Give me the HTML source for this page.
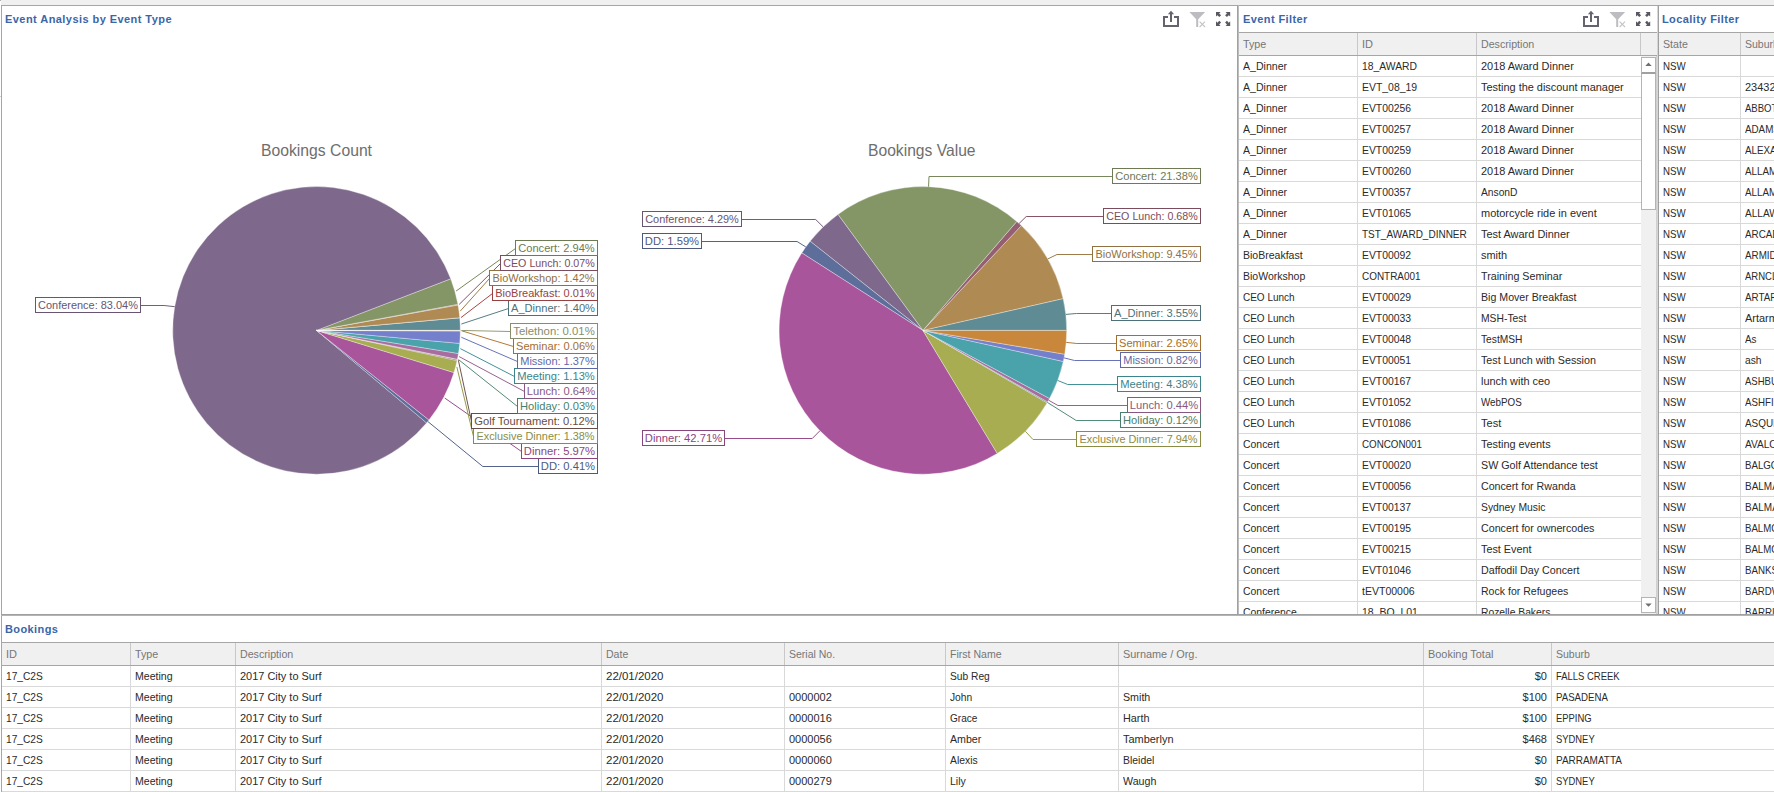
<!DOCTYPE html><html><head><meta charset="utf-8"><title>Dashboard</title><style>
*{margin:0;padding:0;box-sizing:border-box}
html,body{width:1774px;height:792px;overflow:hidden;background:#fff;font-family:"Liberation Sans", sans-serif;}
.a{position:absolute}
.t{position:absolute;white-space:nowrap;font-size:11px;line-height:13px;color:#2a2a2a;transform-origin:0 0}
.r{transform-origin:100% 0}
.h{color:#767676}
.ttl{position:absolute;white-space:nowrap;font-size:11px;font-weight:bold;line-height:13px;color:#3a66a8;letter-spacing:0.4px}
.clip{position:absolute;overflow:hidden}
</style></head><body>

<div class="a" style="left:1px;top:0px;width:1773px;height:5px;background:#f0f0f0"></div>
<div class="a" style="left:0px;top:0px;width:1px;height:1px;background:#b0b0b0"></div>
<div class="a" style="left:0px;top:96px;width:1px;height:1px;background:#d0d0d0"></div>
<div class="clip" style="left:1238px;top:0px;width:420px;height:614px">
<div class="a" style="left:0px;top:32px;width:420px;height:1px;background:#a6a6a6"></div>
<div class="a" style="left:0px;top:33px;width:420px;height:22px;background:#f0f0f0"></div>
<div class="a" style="left:0px;top:55px;width:420px;height:1px;background:#a6a6a6"></div>
<div class="a" style="left:402px;top:33px;width:1px;height:22px;background:#c8c8c8"></div>
<div class="t h" style="left:5px;top:38px;transform:scaleX(0.9725)">Type</div>
<div class="a" style="left:119px;top:33px;width:1px;height:22px;background:#c8c8c8"></div>
<div class="t h" style="left:124px;top:38px">ID</div>
<div class="a" style="left:238px;top:33px;width:1px;height:22px;background:#c8c8c8"></div>
<div class="t h" style="left:243px;top:38px;transform:scaleX(0.9678)">Description</div>
<div class="t" style="left:5px;top:60px;transform:scaleX(0.9611)">A_Dinner</div>
<div class="a" style="left:119px;top:56px;width:1px;height:20px;background:#d9d9d9"></div>
<div class="t" style="left:124px;top:60px;transform:scaleX(0.9401)">18_AWARD</div>
<div class="a" style="left:238px;top:56px;width:1px;height:20px;background:#d9d9d9"></div>
<div class="t" style="left:243px;top:60px;transform:scaleX(0.9939)">2018 Award Dinner</div>
<div class="a" style="left:0px;top:76px;width:403px;height:1px;background:#d9d9d9"></div>
<div class="t" style="left:5px;top:81px;transform:scaleX(0.9611)">A_Dinner</div>
<div class="a" style="left:119px;top:77px;width:1px;height:20px;background:#d9d9d9"></div>
<div class="t" style="left:124px;top:81px;transform:scaleX(0.9492)">EVT_08_19</div>
<div class="a" style="left:238px;top:77px;width:1px;height:20px;background:#d9d9d9"></div>
<div class="t" style="left:243px;top:81px;transform:scaleX(0.9930)">Testing the discount manager</div>
<div class="a" style="left:0px;top:97px;width:403px;height:1px;background:#d9d9d9"></div>
<div class="t" style="left:5px;top:102px;transform:scaleX(0.9611)">A_Dinner</div>
<div class="a" style="left:119px;top:98px;width:1px;height:20px;background:#d9d9d9"></div>
<div class="t" style="left:124px;top:102px;transform:scaleX(0.9433)">EVT00256</div>
<div class="a" style="left:238px;top:98px;width:1px;height:20px;background:#d9d9d9"></div>
<div class="t" style="left:243px;top:102px;transform:scaleX(0.9939)">2018 Award Dinner</div>
<div class="a" style="left:0px;top:118px;width:403px;height:1px;background:#d9d9d9"></div>
<div class="t" style="left:5px;top:123px;transform:scaleX(0.9611)">A_Dinner</div>
<div class="a" style="left:119px;top:119px;width:1px;height:20px;background:#d9d9d9"></div>
<div class="t" style="left:124px;top:123px;transform:scaleX(0.9433)">EVT00257</div>
<div class="a" style="left:238px;top:119px;width:1px;height:20px;background:#d9d9d9"></div>
<div class="t" style="left:243px;top:123px;transform:scaleX(0.9939)">2018 Award Dinner</div>
<div class="a" style="left:0px;top:139px;width:403px;height:1px;background:#d9d9d9"></div>
<div class="t" style="left:5px;top:144px;transform:scaleX(0.9611)">A_Dinner</div>
<div class="a" style="left:119px;top:140px;width:1px;height:20px;background:#d9d9d9"></div>
<div class="t" style="left:124px;top:144px;transform:scaleX(0.9433)">EVT00259</div>
<div class="a" style="left:238px;top:140px;width:1px;height:20px;background:#d9d9d9"></div>
<div class="t" style="left:243px;top:144px;transform:scaleX(0.9939)">2018 Award Dinner</div>
<div class="a" style="left:0px;top:160px;width:403px;height:1px;background:#d9d9d9"></div>
<div class="t" style="left:5px;top:165px;transform:scaleX(0.9611)">A_Dinner</div>
<div class="a" style="left:119px;top:161px;width:1px;height:20px;background:#d9d9d9"></div>
<div class="t" style="left:124px;top:165px;transform:scaleX(0.9433)">EVT00260</div>
<div class="a" style="left:238px;top:161px;width:1px;height:20px;background:#d9d9d9"></div>
<div class="t" style="left:243px;top:165px;transform:scaleX(0.9939)">2018 Award Dinner</div>
<div class="a" style="left:0px;top:181px;width:403px;height:1px;background:#d9d9d9"></div>
<div class="t" style="left:5px;top:186px;transform:scaleX(0.9611)">A_Dinner</div>
<div class="a" style="left:119px;top:182px;width:1px;height:20px;background:#d9d9d9"></div>
<div class="t" style="left:124px;top:186px;transform:scaleX(0.9433)">EVT00357</div>
<div class="a" style="left:238px;top:182px;width:1px;height:20px;background:#d9d9d9"></div>
<div class="t" style="left:243px;top:186px;transform:scaleX(0.9319)">AnsonD</div>
<div class="a" style="left:0px;top:202px;width:403px;height:1px;background:#d9d9d9"></div>
<div class="t" style="left:5px;top:207px;transform:scaleX(0.9611)">A_Dinner</div>
<div class="a" style="left:119px;top:203px;width:1px;height:20px;background:#d9d9d9"></div>
<div class="t" style="left:124px;top:207px;transform:scaleX(0.9433)">EVT01065</div>
<div class="a" style="left:238px;top:203px;width:1px;height:20px;background:#d9d9d9"></div>
<div class="t" style="left:243px;top:207px;transform:scaleX(0.9960)">motorcycle ride in event</div>
<div class="a" style="left:0px;top:223px;width:403px;height:1px;background:#d9d9d9"></div>
<div class="t" style="left:5px;top:228px;transform:scaleX(0.9611)">A_Dinner</div>
<div class="a" style="left:119px;top:224px;width:1px;height:20px;background:#d9d9d9"></div>
<div class="t" style="left:124px;top:228px;transform:scaleX(0.9083)">TST_AWARD_DINNER</div>
<div class="a" style="left:238px;top:224px;width:1px;height:20px;background:#d9d9d9"></div>
<div class="t" style="left:243px;top:228px;transform:scaleX(0.9950)">Test Award Dinner</div>
<div class="a" style="left:0px;top:244px;width:403px;height:1px;background:#d9d9d9"></div>
<div class="t" style="left:5px;top:249px;transform:scaleX(0.9560)">BioBreakfast</div>
<div class="a" style="left:119px;top:245px;width:1px;height:20px;background:#d9d9d9"></div>
<div class="t" style="left:124px;top:249px;transform:scaleX(0.9433)">EVT00092</div>
<div class="a" style="left:238px;top:245px;width:1px;height:20px;background:#d9d9d9"></div>
<div class="t" style="left:243px;top:249px;transform:scaleX(0.9939)">smith</div>
<div class="a" style="left:0px;top:265px;width:403px;height:1px;background:#d9d9d9"></div>
<div class="t" style="left:5px;top:270px;transform:scaleX(0.9551)">BioWorkshop</div>
<div class="a" style="left:119px;top:266px;width:1px;height:20px;background:#d9d9d9"></div>
<div class="t" style="left:124px;top:270px;transform:scaleX(0.9031)">CONTRA001</div>
<div class="a" style="left:238px;top:266px;width:1px;height:20px;background:#d9d9d9"></div>
<div class="t" style="left:243px;top:270px;transform:scaleX(0.9757)">Training Seminar</div>
<div class="a" style="left:0px;top:286px;width:403px;height:1px;background:#d9d9d9"></div>
<div class="t" style="left:5px;top:291px;transform:scaleX(0.9073)">CEO Lunch</div>
<div class="a" style="left:119px;top:287px;width:1px;height:20px;background:#d9d9d9"></div>
<div class="t" style="left:124px;top:291px;transform:scaleX(0.9433)">EVT00029</div>
<div class="a" style="left:238px;top:287px;width:1px;height:20px;background:#d9d9d9"></div>
<div class="t" style="left:243px;top:291px;transform:scaleX(0.9649)">Big Mover Breakfast</div>
<div class="a" style="left:0px;top:307px;width:403px;height:1px;background:#d9d9d9"></div>
<div class="t" style="left:5px;top:312px;transform:scaleX(0.9073)">CEO Lunch</div>
<div class="a" style="left:119px;top:308px;width:1px;height:20px;background:#d9d9d9"></div>
<div class="t" style="left:124px;top:312px;transform:scaleX(0.9433)">EVT00033</div>
<div class="a" style="left:238px;top:308px;width:1px;height:20px;background:#d9d9d9"></div>
<div class="t" style="left:243px;top:312px;transform:scaleX(0.9406)">MSH-Test</div>
<div class="a" style="left:0px;top:328px;width:403px;height:1px;background:#d9d9d9"></div>
<div class="t" style="left:5px;top:333px;transform:scaleX(0.9073)">CEO Lunch</div>
<div class="a" style="left:119px;top:329px;width:1px;height:20px;background:#d9d9d9"></div>
<div class="t" style="left:124px;top:333px;transform:scaleX(0.9433)">EVT00048</div>
<div class="a" style="left:238px;top:329px;width:1px;height:20px;background:#d9d9d9"></div>
<div class="t" style="left:243px;top:333px;transform:scaleX(0.9283)">TestMSH</div>
<div class="a" style="left:0px;top:349px;width:403px;height:1px;background:#d9d9d9"></div>
<div class="t" style="left:5px;top:354px;transform:scaleX(0.9073)">CEO Lunch</div>
<div class="a" style="left:119px;top:350px;width:1px;height:20px;background:#d9d9d9"></div>
<div class="t" style="left:124px;top:354px;transform:scaleX(0.9433)">EVT00051</div>
<div class="a" style="left:238px;top:350px;width:1px;height:20px;background:#d9d9d9"></div>
<div class="t" style="left:243px;top:354px;transform:scaleX(0.9735)">Test Lunch with Session</div>
<div class="a" style="left:0px;top:370px;width:403px;height:1px;background:#d9d9d9"></div>
<div class="t" style="left:5px;top:375px;transform:scaleX(0.9073)">CEO Lunch</div>
<div class="a" style="left:119px;top:371px;width:1px;height:20px;background:#d9d9d9"></div>
<div class="t" style="left:124px;top:375px;transform:scaleX(0.9433)">EVT00167</div>
<div class="a" style="left:238px;top:371px;width:1px;height:20px;background:#d9d9d9"></div>
<div class="t" style="left:243px;top:375px;transform:scaleX(0.9916)">lunch with ceo</div>
<div class="a" style="left:0px;top:391px;width:403px;height:1px;background:#d9d9d9"></div>
<div class="t" style="left:5px;top:396px;transform:scaleX(0.9073)">CEO Lunch</div>
<div class="a" style="left:119px;top:392px;width:1px;height:20px;background:#d9d9d9"></div>
<div class="t" style="left:124px;top:396px;transform:scaleX(0.9433)">EVT01052</div>
<div class="a" style="left:238px;top:392px;width:1px;height:20px;background:#d9d9d9"></div>
<div class="t" style="left:243px;top:396px;transform:scaleX(0.8918)">WebPOS</div>
<div class="a" style="left:0px;top:412px;width:403px;height:1px;background:#d9d9d9"></div>
<div class="t" style="left:5px;top:417px;transform:scaleX(0.9073)">CEO Lunch</div>
<div class="a" style="left:119px;top:413px;width:1px;height:20px;background:#d9d9d9"></div>
<div class="t" style="left:124px;top:417px;transform:scaleX(0.9433)">EVT01086</div>
<div class="a" style="left:238px;top:413px;width:1px;height:20px;background:#d9d9d9"></div>
<div class="t" style="left:243px;top:417px;transform:scaleX(1.0052)">Test</div>
<div class="a" style="left:0px;top:433px;width:403px;height:1px;background:#d9d9d9"></div>
<div class="t" style="left:5px;top:438px;transform:scaleX(0.9478)">Concert</div>
<div class="a" style="left:119px;top:434px;width:1px;height:20px;background:#d9d9d9"></div>
<div class="t" style="left:124px;top:438px;transform:scaleX(0.8912)">CONCON001</div>
<div class="a" style="left:238px;top:434px;width:1px;height:20px;background:#d9d9d9"></div>
<div class="t" style="left:243px;top:438px;transform:scaleX(0.9894)">Testing events</div>
<div class="a" style="left:0px;top:454px;width:403px;height:1px;background:#d9d9d9"></div>
<div class="t" style="left:5px;top:459px;transform:scaleX(0.9478)">Concert</div>
<div class="a" style="left:119px;top:455px;width:1px;height:20px;background:#d9d9d9"></div>
<div class="t" style="left:124px;top:459px;transform:scaleX(0.9433)">EVT00020</div>
<div class="a" style="left:238px;top:455px;width:1px;height:20px;background:#d9d9d9"></div>
<div class="t" style="left:243px;top:459px;transform:scaleX(0.9739)">SW Golf Attendance test</div>
<div class="a" style="left:0px;top:475px;width:403px;height:1px;background:#d9d9d9"></div>
<div class="t" style="left:5px;top:480px;transform:scaleX(0.9478)">Concert</div>
<div class="a" style="left:119px;top:476px;width:1px;height:20px;background:#d9d9d9"></div>
<div class="t" style="left:124px;top:480px;transform:scaleX(0.9433)">EVT00056</div>
<div class="a" style="left:238px;top:476px;width:1px;height:20px;background:#d9d9d9"></div>
<div class="t" style="left:243px;top:480px;transform:scaleX(0.9676)">Concert for Rwanda</div>
<div class="a" style="left:0px;top:496px;width:403px;height:1px;background:#d9d9d9"></div>
<div class="t" style="left:5px;top:501px;transform:scaleX(0.9478)">Concert</div>
<div class="a" style="left:119px;top:497px;width:1px;height:20px;background:#d9d9d9"></div>
<div class="t" style="left:124px;top:501px;transform:scaleX(0.9433)">EVT00137</div>
<div class="a" style="left:238px;top:497px;width:1px;height:20px;background:#d9d9d9"></div>
<div class="t" style="left:243px;top:501px;transform:scaleX(0.9405)">Sydney Music</div>
<div class="a" style="left:0px;top:517px;width:403px;height:1px;background:#d9d9d9"></div>
<div class="t" style="left:5px;top:522px;transform:scaleX(0.9478)">Concert</div>
<div class="a" style="left:119px;top:518px;width:1px;height:20px;background:#d9d9d9"></div>
<div class="t" style="left:124px;top:522px;transform:scaleX(0.9433)">EVT00195</div>
<div class="a" style="left:238px;top:518px;width:1px;height:20px;background:#d9d9d9"></div>
<div class="t" style="left:243px;top:522px;transform:scaleX(0.9715)">Concert for ownercodes</div>
<div class="a" style="left:0px;top:538px;width:403px;height:1px;background:#d9d9d9"></div>
<div class="t" style="left:5px;top:543px;transform:scaleX(0.9478)">Concert</div>
<div class="a" style="left:119px;top:539px;width:1px;height:20px;background:#d9d9d9"></div>
<div class="t" style="left:124px;top:543px;transform:scaleX(0.9433)">EVT00215</div>
<div class="a" style="left:238px;top:539px;width:1px;height:20px;background:#d9d9d9"></div>
<div class="t" style="left:243px;top:543px;transform:scaleX(0.9824)">Test Event</div>
<div class="a" style="left:0px;top:559px;width:403px;height:1px;background:#d9d9d9"></div>
<div class="t" style="left:5px;top:564px;transform:scaleX(0.9478)">Concert</div>
<div class="a" style="left:119px;top:560px;width:1px;height:20px;background:#d9d9d9"></div>
<div class="t" style="left:124px;top:564px;transform:scaleX(0.9433)">EVT01046</div>
<div class="a" style="left:238px;top:560px;width:1px;height:20px;background:#d9d9d9"></div>
<div class="t" style="left:243px;top:564px;transform:scaleX(0.9720)">Daffodil Day Concert</div>
<div class="a" style="left:0px;top:580px;width:403px;height:1px;background:#d9d9d9"></div>
<div class="t" style="left:5px;top:585px;transform:scaleX(0.9478)">Concert</div>
<div class="a" style="left:119px;top:581px;width:1px;height:20px;background:#d9d9d9"></div>
<div class="t" style="left:124px;top:585px;transform:scaleX(0.9573)">tEVT00006</div>
<div class="a" style="left:238px;top:581px;width:1px;height:20px;background:#d9d9d9"></div>
<div class="t" style="left:243px;top:585px;transform:scaleX(0.9584)">Rock for Refugees</div>
<div class="a" style="left:0px;top:601px;width:403px;height:1px;background:#d9d9d9"></div>
<div class="t" style="left:5px;top:606px;transform:scaleX(0.9450)">Conference</div>
<div class="a" style="left:119px;top:602px;width:1px;height:20px;background:#d9d9d9"></div>
<div class="t" style="left:124px;top:606px;transform:scaleX(0.9519)">18_BO_L01</div>
<div class="a" style="left:238px;top:602px;width:1px;height:20px;background:#d9d9d9"></div>
<div class="t" style="left:243px;top:606px;transform:scaleX(0.9375)">Rozelle Bakers</div>
<div class="a" style="left:0px;top:622px;width:403px;height:1px;background:#d9d9d9"></div>
</div>
<div class="clip" style="left:1659px;top:0px;width:115px;height:614px">
<div class="a" style="left:0px;top:32px;width:115px;height:1px;background:#a6a6a6"></div>
<div class="a" style="left:0px;top:33px;width:115px;height:22px;background:#f0f0f0"></div>
<div class="a" style="left:0px;top:55px;width:115px;height:1px;background:#a6a6a6"></div>
<div class="t h" style="left:4px;top:38px;transform:scaleX(0.9650)">State</div>
<div class="a" style="left:81px;top:33px;width:1px;height:22px;background:#c8c8c8"></div>
<div class="t h" style="left:86px;top:38px;transform:scaleX(0.9565)">Suburb</div>
<div class="t" style="left:4px;top:60px;transform:scaleX(0.8821)">NSW</div>
<div class="a" style="left:81px;top:56px;width:1px;height:20px;background:#d9d9d9"></div>
<div class="a" style="left:0px;top:76px;width:115px;height:1px;background:#d9d9d9"></div>
<div class="t" style="left:4px;top:81px;transform:scaleX(0.8821)">NSW</div>
<div class="a" style="left:81px;top:77px;width:1px;height:20px;background:#d9d9d9"></div>
<div class="t" style="left:86px;top:81px">23432</div>
<div class="a" style="left:0px;top:97px;width:115px;height:1px;background:#d9d9d9"></div>
<div class="t" style="left:4px;top:102px;transform:scaleX(0.8821)">NSW</div>
<div class="a" style="left:81px;top:98px;width:1px;height:20px;background:#d9d9d9"></div>
<div class="t" style="left:86px;top:102px;transform:scaleX(0.8674)">ABBOTSBURY</div>
<div class="a" style="left:0px;top:118px;width:115px;height:1px;background:#d9d9d9"></div>
<div class="t" style="left:4px;top:123px;transform:scaleX(0.8821)">NSW</div>
<div class="a" style="left:81px;top:119px;width:1px;height:20px;background:#d9d9d9"></div>
<div class="t" style="left:86px;top:123px;transform:scaleX(0.8904)">ADAMSTOWN</div>
<div class="a" style="left:0px;top:139px;width:115px;height:1px;background:#d9d9d9"></div>
<div class="t" style="left:4px;top:144px;transform:scaleX(0.8821)">NSW</div>
<div class="a" style="left:81px;top:140px;width:1px;height:20px;background:#d9d9d9"></div>
<div class="t" style="left:86px;top:144px;transform:scaleX(0.8913)">ALEXANDRIA</div>
<div class="a" style="left:0px;top:160px;width:115px;height:1px;background:#d9d9d9"></div>
<div class="t" style="left:4px;top:165px;transform:scaleX(0.8821)">NSW</div>
<div class="a" style="left:81px;top:161px;width:1px;height:20px;background:#d9d9d9"></div>
<div class="t" style="left:86px;top:165px;transform:scaleX(0.8933)">ALLAMBIE</div>
<div class="a" style="left:0px;top:181px;width:115px;height:1px;background:#d9d9d9"></div>
<div class="t" style="left:4px;top:186px;transform:scaleX(0.8821)">NSW</div>
<div class="a" style="left:81px;top:182px;width:1px;height:20px;background:#d9d9d9"></div>
<div class="t" style="left:86px;top:186px;transform:scaleX(0.8933)">ALLAMBIE</div>
<div class="a" style="left:0px;top:202px;width:115px;height:1px;background:#d9d9d9"></div>
<div class="t" style="left:4px;top:207px;transform:scaleX(0.8821)">NSW</div>
<div class="a" style="left:81px;top:203px;width:1px;height:20px;background:#d9d9d9"></div>
<div class="t" style="left:86px;top:207px;transform:scaleX(0.9137)">ALLAWAH</div>
<div class="a" style="left:0px;top:223px;width:115px;height:1px;background:#d9d9d9"></div>
<div class="t" style="left:4px;top:228px;transform:scaleX(0.8821)">NSW</div>
<div class="a" style="left:81px;top:224px;width:1px;height:20px;background:#d9d9d9"></div>
<div class="t" style="left:86px;top:228px;transform:scaleX(0.8943)">ARCADIA</div>
<div class="a" style="left:0px;top:244px;width:115px;height:1px;background:#d9d9d9"></div>
<div class="t" style="left:4px;top:249px;transform:scaleX(0.8821)">NSW</div>
<div class="a" style="left:81px;top:245px;width:1px;height:20px;background:#d9d9d9"></div>
<div class="t" style="left:86px;top:249px;transform:scaleX(0.8922)">ARMIDALE</div>
<div class="a" style="left:0px;top:265px;width:115px;height:1px;background:#d9d9d9"></div>
<div class="t" style="left:4px;top:270px;transform:scaleX(0.8821)">NSW</div>
<div class="a" style="left:81px;top:266px;width:1px;height:20px;background:#d9d9d9"></div>
<div class="t" style="left:86px;top:270px;transform:scaleX(0.8656)">ARNCLIFFE</div>
<div class="a" style="left:0px;top:286px;width:115px;height:1px;background:#d9d9d9"></div>
<div class="t" style="left:4px;top:291px;transform:scaleX(0.8821)">NSW</div>
<div class="a" style="left:81px;top:287px;width:1px;height:20px;background:#d9d9d9"></div>
<div class="t" style="left:86px;top:291px;transform:scaleX(0.8908)">ARTARMON</div>
<div class="a" style="left:0px;top:307px;width:115px;height:1px;background:#d9d9d9"></div>
<div class="t" style="left:4px;top:312px;transform:scaleX(0.8821)">NSW</div>
<div class="a" style="left:81px;top:308px;width:1px;height:20px;background:#d9d9d9"></div>
<div class="t" style="left:86px;top:312px;transform:scaleX(0.9916)">Artarmon</div>
<div class="a" style="left:0px;top:328px;width:115px;height:1px;background:#d9d9d9"></div>
<div class="t" style="left:4px;top:333px;transform:scaleX(0.8821)">NSW</div>
<div class="a" style="left:81px;top:329px;width:1px;height:20px;background:#d9d9d9"></div>
<div class="t" style="left:86px;top:333px;transform:scaleX(0.8899)">As</div>
<div class="a" style="left:0px;top:349px;width:115px;height:1px;background:#d9d9d9"></div>
<div class="t" style="left:4px;top:354px;transform:scaleX(0.8821)">NSW</div>
<div class="a" style="left:81px;top:350px;width:1px;height:20px;background:#d9d9d9"></div>
<div class="t" style="left:86px;top:354px;transform:scaleX(0.9347)">ash</div>
<div class="a" style="left:0px;top:370px;width:115px;height:1px;background:#d9d9d9"></div>
<div class="t" style="left:4px;top:375px;transform:scaleX(0.8821)">NSW</div>
<div class="a" style="left:81px;top:371px;width:1px;height:20px;background:#d9d9d9"></div>
<div class="t" style="left:86px;top:375px;transform:scaleX(0.8672)">ASHBURY</div>
<div class="a" style="left:0px;top:391px;width:115px;height:1px;background:#d9d9d9"></div>
<div class="t" style="left:4px;top:396px;transform:scaleX(0.8821)">NSW</div>
<div class="a" style="left:81px;top:392px;width:1px;height:20px;background:#d9d9d9"></div>
<div class="t" style="left:86px;top:396px;transform:scaleX(0.8851)">ASHFIELD</div>
<div class="a" style="left:0px;top:412px;width:115px;height:1px;background:#d9d9d9"></div>
<div class="t" style="left:4px;top:417px;transform:scaleX(0.8821)">NSW</div>
<div class="a" style="left:81px;top:413px;width:1px;height:20px;background:#d9d9d9"></div>
<div class="t" style="left:86px;top:417px;transform:scaleX(0.9012)">ASQUITH</div>
<div class="a" style="left:0px;top:433px;width:115px;height:1px;background:#d9d9d9"></div>
<div class="t" style="left:4px;top:438px;transform:scaleX(0.8821)">NSW</div>
<div class="a" style="left:81px;top:434px;width:1px;height:20px;background:#d9d9d9"></div>
<div class="t" style="left:86px;top:438px;transform:scaleX(0.9193)">AVALON</div>
<div class="a" style="left:0px;top:454px;width:115px;height:1px;background:#d9d9d9"></div>
<div class="t" style="left:4px;top:459px;transform:scaleX(0.8821)">NSW</div>
<div class="a" style="left:81px;top:455px;width:1px;height:20px;background:#d9d9d9"></div>
<div class="t" style="left:86px;top:459px;transform:scaleX(0.8816)">BALGOWLAH</div>
<div class="a" style="left:0px;top:475px;width:115px;height:1px;background:#d9d9d9"></div>
<div class="t" style="left:4px;top:480px;transform:scaleX(0.8821)">NSW</div>
<div class="a" style="left:81px;top:476px;width:1px;height:20px;background:#d9d9d9"></div>
<div class="t" style="left:86px;top:480px;transform:scaleX(0.9067)">BALMAIN</div>
<div class="a" style="left:0px;top:496px;width:115px;height:1px;background:#d9d9d9"></div>
<div class="t" style="left:4px;top:501px;transform:scaleX(0.8821)">NSW</div>
<div class="a" style="left:81px;top:497px;width:1px;height:20px;background:#d9d9d9"></div>
<div class="t" style="left:86px;top:501px;transform:scaleX(0.9067)">BALMAIN</div>
<div class="a" style="left:0px;top:517px;width:115px;height:1px;background:#d9d9d9"></div>
<div class="t" style="left:4px;top:522px;transform:scaleX(0.8821)">NSW</div>
<div class="a" style="left:81px;top:518px;width:1px;height:20px;background:#d9d9d9"></div>
<div class="t" style="left:86px;top:522px;transform:scaleX(0.8756)">BALMORAL</div>
<div class="a" style="left:0px;top:538px;width:115px;height:1px;background:#d9d9d9"></div>
<div class="t" style="left:4px;top:543px;transform:scaleX(0.8821)">NSW</div>
<div class="a" style="left:81px;top:539px;width:1px;height:20px;background:#d9d9d9"></div>
<div class="t" style="left:86px;top:543px;transform:scaleX(0.8756)">BALMORAL</div>
<div class="a" style="left:0px;top:559px;width:115px;height:1px;background:#d9d9d9"></div>
<div class="t" style="left:4px;top:564px;transform:scaleX(0.8821)">NSW</div>
<div class="a" style="left:81px;top:560px;width:1px;height:20px;background:#d9d9d9"></div>
<div class="t" style="left:86px;top:564px;transform:scaleX(0.8852)">BANKSTOWN</div>
<div class="a" style="left:0px;top:580px;width:115px;height:1px;background:#d9d9d9"></div>
<div class="t" style="left:4px;top:585px;transform:scaleX(0.8821)">NSW</div>
<div class="a" style="left:81px;top:581px;width:1px;height:20px;background:#d9d9d9"></div>
<div class="t" style="left:86px;top:585px;transform:scaleX(0.8768)">BARDWELL</div>
<div class="a" style="left:0px;top:601px;width:115px;height:1px;background:#d9d9d9"></div>
<div class="t" style="left:4px;top:606px;transform:scaleX(0.8821)">NSW</div>
<div class="a" style="left:81px;top:602px;width:1px;height:20px;background:#d9d9d9"></div>
<div class="t" style="left:86px;top:606px;transform:scaleX(0.8845)">BARRINGTON</div>
<div class="a" style="left:0px;top:622px;width:115px;height:1px;background:#d9d9d9"></div>
</div>
<div class="clip" style="left:2px;top:0px;width:1772px;height:792px">
<div class="a" style="left:0px;top:642px;width:1772px;height:1px;background:#a6a6a6"></div>
<div class="a" style="left:0px;top:643px;width:1772px;height:22px;background:#f0f0f0"></div>
<div class="a" style="left:0px;top:665px;width:1772px;height:1px;background:#a6a6a6"></div>
<div class="t h" style="left:4px;top:648px">ID</div>
<div class="a" style="left:128px;top:643px;width:1px;height:22px;background:#c8c8c8"></div>
<div class="t h" style="left:133px;top:648px;transform:scaleX(0.9725)">Type</div>
<div class="a" style="left:233px;top:643px;width:1px;height:22px;background:#c8c8c8"></div>
<div class="t h" style="left:238px;top:648px;transform:scaleX(0.9678)">Description</div>
<div class="a" style="left:599px;top:643px;width:1px;height:22px;background:#c8c8c8"></div>
<div class="t h" style="left:604px;top:648px;transform:scaleX(0.9582)">Date</div>
<div class="a" style="left:782px;top:643px;width:1px;height:22px;background:#c8c8c8"></div>
<div class="t h" style="left:787px;top:648px;transform:scaleX(0.9553)">Serial No.</div>
<div class="a" style="left:943px;top:643px;width:1px;height:22px;background:#c8c8c8"></div>
<div class="t h" style="left:948px;top:648px;transform:scaleX(0.9591)">First Name</div>
<div class="a" style="left:1116px;top:643px;width:1px;height:22px;background:#c8c8c8"></div>
<div class="t h" style="left:1121px;top:648px;transform:scaleX(0.9898)">Surname / Org.</div>
<div class="a" style="left:1421px;top:643px;width:1px;height:22px;background:#c8c8c8"></div>
<div class="t h" style="left:1426px;top:648px;transform:scaleX(0.9930)">Booking Total</div>
<div class="a" style="left:1549px;top:643px;width:1px;height:22px;background:#c8c8c8"></div>
<div class="t h" style="left:1554px;top:648px;transform:scaleX(0.9565)">Suburb</div>
<div class="t" style="left:4px;top:670px;transform:scaleX(0.9244)">17_C2S</div>
<div class="a" style="left:128px;top:666px;width:1px;height:20px;background:#d9d9d9"></div>
<div class="t" style="left:133px;top:670px;transform:scaleX(0.9607)">Meeting</div>
<div class="a" style="left:233px;top:666px;width:1px;height:20px;background:#d9d9d9"></div>
<div class="t" style="left:238px;top:670px;transform:scaleX(0.9961)">2017 City to Surf</div>
<div class="a" style="left:599px;top:666px;width:1px;height:20px;background:#d9d9d9"></div>
<div class="t" style="left:604px;top:670px;transform:scaleX(1.0447)">22/01/2020</div>
<div class="a" style="left:782px;top:666px;width:1px;height:20px;background:#d9d9d9"></div>
<div class="a" style="left:943px;top:666px;width:1px;height:20px;background:#d9d9d9"></div>
<div class="t" style="left:948px;top:670px;transform:scaleX(0.9300)">Sub Reg</div>
<div class="a" style="left:1116px;top:666px;width:1px;height:20px;background:#d9d9d9"></div>
<div class="a" style="left:1421px;top:666px;width:1px;height:20px;background:#d9d9d9"></div>
<div class="t r" style="right:227px;top:670px">$0</div>
<div class="a" style="left:1549px;top:666px;width:1px;height:20px;background:#d9d9d9"></div>
<div class="t" style="left:1554px;top:670px;transform:scaleX(0.8602)">FALLS CREEK</div>
<div class="a" style="left:0px;top:686px;width:1772px;height:1px;background:#d9d9d9"></div>
<div class="t" style="left:4px;top:691px;transform:scaleX(0.9244)">17_C2S</div>
<div class="a" style="left:128px;top:687px;width:1px;height:20px;background:#d9d9d9"></div>
<div class="t" style="left:133px;top:691px;transform:scaleX(0.9607)">Meeting</div>
<div class="a" style="left:233px;top:687px;width:1px;height:20px;background:#d9d9d9"></div>
<div class="t" style="left:238px;top:691px;transform:scaleX(0.9961)">2017 City to Surf</div>
<div class="a" style="left:599px;top:687px;width:1px;height:20px;background:#d9d9d9"></div>
<div class="t" style="left:604px;top:691px;transform:scaleX(1.0447)">22/01/2020</div>
<div class="a" style="left:782px;top:687px;width:1px;height:20px;background:#d9d9d9"></div>
<div class="t" style="left:787px;top:691px">0000002</div>
<div class="a" style="left:943px;top:687px;width:1px;height:20px;background:#d9d9d9"></div>
<div class="t" style="left:948px;top:691px;transform:scaleX(0.9311)">John</div>
<div class="a" style="left:1116px;top:687px;width:1px;height:20px;background:#d9d9d9"></div>
<div class="t" style="left:1121px;top:691px;transform:scaleX(0.9707)">Smith</div>
<div class="a" style="left:1421px;top:687px;width:1px;height:20px;background:#d9d9d9"></div>
<div class="t r" style="right:227px;top:691px">$100</div>
<div class="a" style="left:1549px;top:687px;width:1px;height:20px;background:#d9d9d9"></div>
<div class="t" style="left:1554px;top:691px;transform:scaleX(0.8782)">PASADENA</div>
<div class="a" style="left:0px;top:707px;width:1772px;height:1px;background:#d9d9d9"></div>
<div class="t" style="left:4px;top:712px;transform:scaleX(0.9244)">17_C2S</div>
<div class="a" style="left:128px;top:708px;width:1px;height:20px;background:#d9d9d9"></div>
<div class="t" style="left:133px;top:712px;transform:scaleX(0.9607)">Meeting</div>
<div class="a" style="left:233px;top:708px;width:1px;height:20px;background:#d9d9d9"></div>
<div class="t" style="left:238px;top:712px;transform:scaleX(0.9961)">2017 City to Surf</div>
<div class="a" style="left:599px;top:708px;width:1px;height:20px;background:#d9d9d9"></div>
<div class="t" style="left:604px;top:712px;transform:scaleX(1.0447)">22/01/2020</div>
<div class="a" style="left:782px;top:708px;width:1px;height:20px;background:#d9d9d9"></div>
<div class="t" style="left:787px;top:712px">0000016</div>
<div class="a" style="left:943px;top:708px;width:1px;height:20px;background:#d9d9d9"></div>
<div class="t" style="left:948px;top:712px;transform:scaleX(0.9142)">Grace</div>
<div class="a" style="left:1116px;top:708px;width:1px;height:20px;background:#d9d9d9"></div>
<div class="t" style="left:1121px;top:712px;transform:scaleX(0.9841)">Harth</div>
<div class="a" style="left:1421px;top:708px;width:1px;height:20px;background:#d9d9d9"></div>
<div class="t r" style="right:227px;top:712px">$100</div>
<div class="a" style="left:1549px;top:708px;width:1px;height:20px;background:#d9d9d9"></div>
<div class="t" style="left:1554px;top:712px;transform:scaleX(0.8570)">EPPING</div>
<div class="a" style="left:0px;top:728px;width:1772px;height:1px;background:#d9d9d9"></div>
<div class="t" style="left:4px;top:733px;transform:scaleX(0.9244)">17_C2S</div>
<div class="a" style="left:128px;top:729px;width:1px;height:20px;background:#d9d9d9"></div>
<div class="t" style="left:133px;top:733px;transform:scaleX(0.9607)">Meeting</div>
<div class="a" style="left:233px;top:729px;width:1px;height:20px;background:#d9d9d9"></div>
<div class="t" style="left:238px;top:733px;transform:scaleX(0.9961)">2017 City to Surf</div>
<div class="a" style="left:599px;top:729px;width:1px;height:20px;background:#d9d9d9"></div>
<div class="t" style="left:604px;top:733px;transform:scaleX(1.0447)">22/01/2020</div>
<div class="a" style="left:782px;top:729px;width:1px;height:20px;background:#d9d9d9"></div>
<div class="t" style="left:787px;top:733px">0000056</div>
<div class="a" style="left:943px;top:729px;width:1px;height:20px;background:#d9d9d9"></div>
<div class="t" style="left:948px;top:733px;transform:scaleX(0.9669)">Amber</div>
<div class="a" style="left:1116px;top:729px;width:1px;height:20px;background:#d9d9d9"></div>
<div class="t" style="left:1121px;top:733px;transform:scaleX(0.9957)">Tamberlyn</div>
<div class="a" style="left:1421px;top:729px;width:1px;height:20px;background:#d9d9d9"></div>
<div class="t r" style="right:227px;top:733px">$468</div>
<div class="a" style="left:1549px;top:729px;width:1px;height:20px;background:#d9d9d9"></div>
<div class="t" style="left:1554px;top:733px;transform:scaleX(0.8543)">SYDNEY</div>
<div class="a" style="left:0px;top:749px;width:1772px;height:1px;background:#d9d9d9"></div>
<div class="t" style="left:4px;top:754px;transform:scaleX(0.9244)">17_C2S</div>
<div class="a" style="left:128px;top:750px;width:1px;height:20px;background:#d9d9d9"></div>
<div class="t" style="left:133px;top:754px;transform:scaleX(0.9607)">Meeting</div>
<div class="a" style="left:233px;top:750px;width:1px;height:20px;background:#d9d9d9"></div>
<div class="t" style="left:238px;top:754px;transform:scaleX(0.9961)">2017 City to Surf</div>
<div class="a" style="left:599px;top:750px;width:1px;height:20px;background:#d9d9d9"></div>
<div class="t" style="left:604px;top:754px;transform:scaleX(1.0447)">22/01/2020</div>
<div class="a" style="left:782px;top:750px;width:1px;height:20px;background:#d9d9d9"></div>
<div class="t" style="left:787px;top:754px">0000060</div>
<div class="a" style="left:943px;top:750px;width:1px;height:20px;background:#d9d9d9"></div>
<div class="t" style="left:948px;top:754px;transform:scaleX(0.9405)">Alexis</div>
<div class="a" style="left:1116px;top:750px;width:1px;height:20px;background:#d9d9d9"></div>
<div class="t" style="left:1121px;top:754px;transform:scaleX(0.9477)">Bleidel</div>
<div class="a" style="left:1421px;top:750px;width:1px;height:20px;background:#d9d9d9"></div>
<div class="t r" style="right:227px;top:754px">$0</div>
<div class="a" style="left:1549px;top:750px;width:1px;height:20px;background:#d9d9d9"></div>
<div class="t" style="left:1554px;top:754px;transform:scaleX(0.9062)">PARRAMATTA</div>
<div class="a" style="left:0px;top:770px;width:1772px;height:1px;background:#d9d9d9"></div>
<div class="t" style="left:4px;top:775px;transform:scaleX(0.9244)">17_C2S</div>
<div class="a" style="left:128px;top:771px;width:1px;height:20px;background:#d9d9d9"></div>
<div class="t" style="left:133px;top:775px;transform:scaleX(0.9607)">Meeting</div>
<div class="a" style="left:233px;top:771px;width:1px;height:20px;background:#d9d9d9"></div>
<div class="t" style="left:238px;top:775px;transform:scaleX(0.9961)">2017 City to Surf</div>
<div class="a" style="left:599px;top:771px;width:1px;height:20px;background:#d9d9d9"></div>
<div class="t" style="left:604px;top:775px;transform:scaleX(1.0447)">22/01/2020</div>
<div class="a" style="left:782px;top:771px;width:1px;height:20px;background:#d9d9d9"></div>
<div class="t" style="left:787px;top:775px">0000279</div>
<div class="a" style="left:943px;top:771px;width:1px;height:20px;background:#d9d9d9"></div>
<div class="t" style="left:948px;top:775px;transform:scaleX(0.9600)">Lily</div>
<div class="a" style="left:1116px;top:771px;width:1px;height:20px;background:#d9d9d9"></div>
<div class="t" style="left:1121px;top:775px;transform:scaleX(0.9680)">Waugh</div>
<div class="a" style="left:1421px;top:771px;width:1px;height:20px;background:#d9d9d9"></div>
<div class="t r" style="right:227px;top:775px">$0</div>
<div class="a" style="left:1549px;top:771px;width:1px;height:20px;background:#d9d9d9"></div>
<div class="t" style="left:1554px;top:775px;transform:scaleX(0.8543)">SYDNEY</div>
<div class="a" style="left:0px;top:791px;width:1772px;height:1px;background:#d9d9d9"></div>
</div>
<svg class="a" style="left:0;top:0" width="1236" height="614" font-family="Liberation Sans, sans-serif" font-size="11">
<text x="316.5" y="156" text-anchor="middle" font-size="16.5" fill="#6e6e6e" textLength="111" lengthAdjust="spacingAndGlyphs">Bookings Count</text>
<text x="921.8" y="156" text-anchor="middle" font-size="16.5" fill="#6e6e6e" textLength="107.5" lengthAdjust="spacingAndGlyphs">Bookings Value</text>
<path d="M316.50,330.40 L460.30,330.40 A143.8,143.8 0 0 0 459.74,317.77 Z" fill="#5f8b95" stroke="#ffffff" stroke-opacity="0.42" stroke-width="0.8" stroke-linejoin="round"/>
<path d="M316.50,330.40 L459.74,317.77 A143.8,143.8 0 0 0 459.74,317.68 Z" fill="#ba4d51" stroke="#ffffff" stroke-opacity="0.42" stroke-width="0.8" stroke-linejoin="round"/>
<path d="M316.50,330.40 L459.74,317.68 A143.8,143.8 0 0 0 458.03,304.96 Z" fill="#af8a53" stroke="#ffffff" stroke-opacity="0.42" stroke-width="0.8" stroke-linejoin="round"/>
<path d="M316.50,330.40 L458.03,304.96 A143.8,143.8 0 0 0 457.92,304.34 Z" fill="#955f71" stroke="#ffffff" stroke-opacity="0.42" stroke-width="0.8" stroke-linejoin="round"/>
<path d="M316.50,330.40 L457.92,304.34 A143.8,143.8 0 0 0 450.73,278.81 Z" fill="#859666" stroke="#ffffff" stroke-opacity="0.42" stroke-width="0.8" stroke-linejoin="round"/>
<path d="M316.50,330.40 L450.73,278.81 A143.8,143.8 0 1 0 426.61,422.89 Z" fill="#7e688c" stroke="#ffffff" stroke-opacity="0.42" stroke-width="0.8" stroke-linejoin="round"/>
<path d="M316.50,330.40 L426.61,422.89 A143.8,143.8 0 0 0 428.95,420.03 Z" fill="#5e6e9a" stroke="#ffffff" stroke-opacity="0.42" stroke-width="0.8" stroke-linejoin="round"/>
<path d="M316.50,330.40 L428.95,420.03 A143.8,143.8 0 0 0 453.97,372.60 Z" fill="#a9559c" stroke="#ffffff" stroke-opacity="0.42" stroke-width="0.8" stroke-linejoin="round"/>
<path d="M316.50,330.40 L453.97,372.60 A143.8,143.8 0 0 0 457.11,360.53 Z" fill="#a8ad52" stroke="#ffffff" stroke-opacity="0.42" stroke-width="0.8" stroke-linejoin="round"/>
<path d="M316.50,330.40 L457.11,360.53 A143.8,143.8 0 0 0 457.33,359.47 Z" fill="#7d5f55" stroke="#ffffff" stroke-opacity="0.42" stroke-width="0.8" stroke-linejoin="round"/>
<path d="M316.50,330.40 L457.33,359.47 A143.8,143.8 0 0 0 457.39,359.21 Z" fill="#5a9c84" stroke="#ffffff" stroke-opacity="0.42" stroke-width="0.8" stroke-linejoin="round"/>
<path d="M316.50,330.40 L457.39,359.21 A143.8,143.8 0 0 0 458.43,353.52 Z" fill="#a86c9f" stroke="#ffffff" stroke-opacity="0.42" stroke-width="0.8" stroke-linejoin="round"/>
<path d="M316.50,330.40 L458.43,353.52 A143.8,143.8 0 0 0 459.71,343.39 Z" fill="#4aa2aa" stroke="#ffffff" stroke-opacity="0.42" stroke-width="0.8" stroke-linejoin="round"/>
<path d="M316.50,330.40 L459.71,343.39 A143.8,143.8 0 0 0 460.30,331.03 Z" fill="#7480cb" stroke="#ffffff" stroke-opacity="0.42" stroke-width="0.8" stroke-linejoin="round"/>
<path d="M316.50,330.40 L460.30,331.03 A143.8,143.8 0 0 0 460.30,330.49 Z" fill="#c8873b" stroke="#ffffff" stroke-opacity="0.42" stroke-width="0.8" stroke-linejoin="round"/>
<path d="M316.50,330.40 L460.30,330.49 A143.8,143.8 0 0 0 460.30,330.40 Z" fill="#a7ad85" stroke="#ffffff" stroke-opacity="0.42" stroke-width="0.8" stroke-linejoin="round"/>
<polyline fill="none" stroke="#557d86" stroke-width="1" points="461.36,324.02 508.50,308.50"/>
<polyline fill="none" stroke="#a74548" stroke-width="1" points="460.94,317.62 492.50,293.50"/>
<polyline fill="none" stroke="#9d7c4a" stroke-width="1" points="460.22,311.14 489.50,278.50"/>
<polyline fill="none" stroke="#865565" stroke-width="1" points="459.16,304.44 500.50,263.50"/>
<polyline fill="none" stroke="#77875b" stroke-width="1" points="456.07,291.08 515.50,248.50"/>
<polyline fill="none" stroke="#54638a" stroke-width="1" points="427.79,421.47 482.82,466.50 538.50,466.50"/>
<polyline fill="none" stroke="#984c8c" stroke-width="1" points="444.75,398.05 521.50,451.50"/>
<polyline fill="none" stroke="#979b49" stroke-width="1" points="456.83,366.90 473.50,436.50"/>
<polyline fill="none" stroke="#70554c" stroke-width="1" points="458.39,360.25 471.50,421.50"/>
<polyline fill="none" stroke="#518c76" stroke-width="1" points="458.53,359.58 517.50,406.50"/>
<polyline fill="none" stroke="#97618f" stroke-width="1" points="459.12,356.59 524.50,391.50"/>
<polyline fill="none" stroke="#429199" stroke-width="1" points="460.35,348.62 514.50,376.50"/>
<polyline fill="none" stroke="#6873b6" stroke-width="1" points="461.34,337.28 517.50,361.50"/>
<polyline fill="none" stroke="#b47935" stroke-width="1" points="461.50,330.76 513.50,346.50"/>
<polyline fill="none" stroke="#969b77" stroke-width="1" points="461.50,330.45 510.50,331.50"/>
<polyline fill="none" stroke="#715d7e" stroke-width="1" points="174.67,306.66 164.12,305.50 140.50,305.50"/>
<rect x="508.50" y="300.50" width="89.00" height="15" fill="#fff" stroke="#4d717a" stroke-width="1"/><text x="553.00" y="311.90" text-anchor="middle" fill="#4d717a" textLength="83.98" lengthAdjust="spacingAndGlyphs">A_Dinner: 1.40%</text>
<rect x="492.50" y="285.50" width="105.00" height="15" fill="#fff" stroke="#983f42" stroke-width="1"/><text x="545.00" y="296.90" text-anchor="middle" fill="#983f42" textLength="99.53" lengthAdjust="spacingAndGlyphs">BioBreakfast: 0.01%</text>
<rect x="489.50" y="270.50" width="108.00" height="15" fill="#fff" stroke="#8f7144" stroke-width="1"/><text x="543.50" y="281.90" text-anchor="middle" fill="#8f7144" textLength="102.19" lengthAdjust="spacingAndGlyphs">BioWorkshop: 1.42%</text>
<rect x="500.50" y="255.50" width="97.00" height="15" fill="#fff" stroke="#7a4d5c" stroke-width="1"/><text x="549.00" y="266.90" text-anchor="middle" fill="#7a4d5c" textLength="91.50" lengthAdjust="spacingAndGlyphs">CEO Lunch: 0.07%</text>
<rect x="515.50" y="240.50" width="82.00" height="15" fill="#fff" stroke="#6d7a53" stroke-width="1"/><text x="556.50" y="251.90" text-anchor="middle" fill="#6d7a53" textLength="76.42" lengthAdjust="spacingAndGlyphs">Concert: 2.94%</text>
<rect x="538.50" y="458.50" width="59.00" height="15" fill="#fff" stroke="#4d5a7e" stroke-width="1"/><text x="568.00" y="469.90" text-anchor="middle" fill="#4d5a7e" textLength="54.22" lengthAdjust="spacingAndGlyphs">DD: 0.41%</text>
<rect x="521.50" y="443.50" width="76.00" height="15" fill="#fff" stroke="#8a457f" stroke-width="1"/><text x="559.50" y="454.90" text-anchor="middle" fill="#8a457f" textLength="71.26" lengthAdjust="spacingAndGlyphs">Dinner: 5.97%</text>
<rect x="473.50" y="428.50" width="124.00" height="15" fill="#fff" stroke="#898d43" stroke-width="1"/><text x="535.50" y="439.90" text-anchor="middle" fill="#898d43" textLength="118.10" lengthAdjust="spacingAndGlyphs">Exclusive Dinner: 1.38%</text>
<rect x="471.50" y="413.50" width="126.00" height="15" fill="#fff" stroke="#664d45" stroke-width="1"/><text x="534.50" y="424.90" text-anchor="middle" fill="#664d45" textLength="120.29" lengthAdjust="spacingAndGlyphs">Golf Tournament: 0.12%</text>
<rect x="517.50" y="398.50" width="80.00" height="15" fill="#fff" stroke="#497f6c" stroke-width="1"/><text x="557.50" y="409.90" text-anchor="middle" fill="#497f6c" textLength="75.08" lengthAdjust="spacingAndGlyphs">Holiday: 0.03%</text>
<rect x="524.50" y="383.50" width="73.00" height="15" fill="#fff" stroke="#895882" stroke-width="1"/><text x="561.00" y="394.90" text-anchor="middle" fill="#895882" textLength="68.38" lengthAdjust="spacingAndGlyphs">Lunch: 0.64%</text>
<rect x="514.50" y="368.50" width="83.00" height="15" fill="#fff" stroke="#3c848b" stroke-width="1"/><text x="556.00" y="379.90" text-anchor="middle" fill="#3c848b" textLength="77.50" lengthAdjust="spacingAndGlyphs">Meeting: 1.13%</text>
<rect x="517.50" y="353.50" width="80.00" height="15" fill="#fff" stroke="#5f68a6" stroke-width="1"/><text x="557.50" y="364.90" text-anchor="middle" fill="#5f68a6" textLength="74.49" lengthAdjust="spacingAndGlyphs">Mission: 1.37%</text>
<rect x="513.50" y="338.50" width="84.00" height="15" fill="#fff" stroke="#a46e30" stroke-width="1"/><text x="555.50" y="349.90" text-anchor="middle" fill="#a46e30" textLength="78.95" lengthAdjust="spacingAndGlyphs">Seminar: 0.06%</text>
<rect x="510.50" y="323.50" width="87.00" height="15" fill="#fff" stroke="#888d6d" stroke-width="1"/><text x="554.00" y="334.90" text-anchor="middle" fill="#888d6d" textLength="81.48" lengthAdjust="spacingAndGlyphs">Telethon: 0.01%</text>
<rect x="35.50" y="297.50" width="105.00" height="15" fill="#fff" stroke="#675572" stroke-width="1"/><text x="88.00" y="308.90" text-anchor="middle" fill="#675572" textLength="99.77" lengthAdjust="spacingAndGlyphs">Conference: 83.04%</text>
<path d="M922.90,330.40 L1066.70,330.40 A143.8,143.8 0 0 0 1063.14,298.59 Z" fill="#5f8b95" stroke="#ffffff" stroke-opacity="0.42" stroke-width="0.8" stroke-linejoin="round"/>
<path d="M922.90,330.40 L1063.14,298.59 A143.8,143.8 0 0 0 1021.34,225.57 Z" fill="#af8a53" stroke="#ffffff" stroke-opacity="0.42" stroke-width="0.8" stroke-linejoin="round"/>
<path d="M922.90,330.40 L1021.34,225.57 A143.8,143.8 0 0 0 1016.77,221.47 Z" fill="#955f71" stroke="#ffffff" stroke-opacity="0.42" stroke-width="0.8" stroke-linejoin="round"/>
<path d="M922.90,330.40 L1016.77,221.47 A143.8,143.8 0 0 0 837.94,214.38 Z" fill="#859666" stroke="#ffffff" stroke-opacity="0.42" stroke-width="0.8" stroke-linejoin="round"/>
<path d="M922.90,330.40 L837.94,214.38 A143.8,143.8 0 0 0 810.11,241.20 Z" fill="#7e688c" stroke="#ffffff" stroke-opacity="0.42" stroke-width="0.8" stroke-linejoin="round"/>
<path d="M922.90,330.40 L810.11,241.20 A143.8,143.8 0 0 0 801.78,252.89 Z" fill="#5e6e9a" stroke="#ffffff" stroke-opacity="0.42" stroke-width="0.8" stroke-linejoin="round"/>
<path d="M922.90,330.40 L801.78,252.89 A143.8,143.8 0 0 0 997.26,453.48 Z" fill="#a9559c" stroke="#ffffff" stroke-opacity="0.42" stroke-width="0.8" stroke-linejoin="round"/>
<path d="M922.90,330.40 L997.26,453.48 A143.8,143.8 0 0 0 1047.09,402.90 Z" fill="#a8ad52" stroke="#ffffff" stroke-opacity="0.42" stroke-width="0.8" stroke-linejoin="round"/>
<path d="M922.90,330.40 L1047.09,402.90 A143.8,143.8 0 0 0 1047.63,401.96 Z" fill="#5a9c84" stroke="#ffffff" stroke-opacity="0.42" stroke-width="0.8" stroke-linejoin="round"/>
<path d="M922.90,330.40 L1047.63,401.96 A143.8,143.8 0 0 0 1049.56,398.49 Z" fill="#a86c9f" stroke="#ffffff" stroke-opacity="0.42" stroke-width="0.8" stroke-linejoin="round"/>
<path d="M922.90,330.40 L1049.56,398.49 A143.8,143.8 0 0 0 1063.30,361.50 Z" fill="#4aa2aa" stroke="#ffffff" stroke-opacity="0.42" stroke-width="0.8" stroke-linejoin="round"/>
<path d="M922.90,330.40 L1063.30,361.50 A143.8,143.8 0 0 0 1064.71,354.23 Z" fill="#7480cb" stroke="#ffffff" stroke-opacity="0.42" stroke-width="0.8" stroke-linejoin="round"/>
<path d="M922.90,330.40 L1064.71,354.23 A143.8,143.8 0 0 0 1066.70,330.40 Z" fill="#c8873b" stroke="#ffffff" stroke-opacity="0.42" stroke-width="0.8" stroke-linejoin="round"/>
<polyline fill="none" stroke="#557d86" stroke-width="1" points="1065.81,314.40 1076.44,313.50 1111.50,313.50"/>
<polyline fill="none" stroke="#9d7c4a" stroke-width="1" points="1047.70,258.96 1056.98,254.50 1092.50,254.50"/>
<polyline fill="none" stroke="#865565" stroke-width="1" points="1019.08,223.50 1026.23,216.50 1103.50,216.50"/>
<polyline fill="none" stroke="#77875b" stroke-width="1" points="928.59,186.71 929.01,176.50 1112.50,176.50"/>
<polyline fill="none" stroke="#979b49" stroke-width="1" points="1025.35,431.31 1032.97,439.50 1076.50,439.50"/>
<polyline fill="none" stroke="#518c76" stroke-width="1" points="1047.36,402.43 1076.20,420.50 1120.50,420.50"/>
<polyline fill="none" stroke="#97618f" stroke-width="1" points="1048.61,400.23 1057.96,405.50 1127.50,405.50"/>
<polyline fill="none" stroke="#429199" stroke-width="1" points="1057.70,380.47 1067.73,384.50 1117.50,384.50"/>
<polyline fill="none" stroke="#6873b6" stroke-width="1" points="1064.05,357.88 1074.55,360.50 1120.50,360.50"/>
<polyline fill="none" stroke="#b47935" stroke-width="1" points="1066.20,342.36 1076.86,343.50 1116.50,343.50"/>
<polyline fill="none" stroke="#715d7e" stroke-width="1" points="823.12,226.85 815.70,219.50 741.50,219.50"/>
<polyline fill="none" stroke="#54638a" stroke-width="1" points="805.80,246.94 797.08,241.50 701.50,241.50"/>
<polyline fill="none" stroke="#984c8c" stroke-width="1" points="819.92,430.76 812.25,438.50 724.50,438.50"/>
<rect x="1111.50" y="305.50" width="89.00" height="15" fill="#fff" stroke="#4d717a" stroke-width="1"/><text x="1156.00" y="316.90" text-anchor="middle" fill="#4d717a" textLength="83.98" lengthAdjust="spacingAndGlyphs">A_Dinner: 3.55%</text>
<rect x="1092.50" y="246.50" width="108.00" height="15" fill="#fff" stroke="#8f7144" stroke-width="1"/><text x="1146.50" y="257.90" text-anchor="middle" fill="#8f7144" textLength="102.19" lengthAdjust="spacingAndGlyphs">BioWorkshop: 9.45%</text>
<rect x="1103.50" y="208.50" width="97.00" height="15" fill="#fff" stroke="#7a4d5c" stroke-width="1"/><text x="1152.00" y="219.90" text-anchor="middle" fill="#7a4d5c" textLength="91.50" lengthAdjust="spacingAndGlyphs">CEO Lunch: 0.68%</text>
<rect x="1112.50" y="168.50" width="88.00" height="15" fill="#fff" stroke="#6d7a53" stroke-width="1"/><text x="1156.50" y="179.90" text-anchor="middle" fill="#6d7a53" textLength="82.54" lengthAdjust="spacingAndGlyphs">Concert: 21.38%</text>
<rect x="1076.50" y="431.50" width="124.00" height="15" fill="#fff" stroke="#898d43" stroke-width="1"/><text x="1138.50" y="442.90" text-anchor="middle" fill="#898d43" textLength="118.10" lengthAdjust="spacingAndGlyphs">Exclusive Dinner: 7.94%</text>
<rect x="1120.50" y="412.50" width="80.00" height="15" fill="#fff" stroke="#497f6c" stroke-width="1"/><text x="1160.50" y="423.90" text-anchor="middle" fill="#497f6c" textLength="75.08" lengthAdjust="spacingAndGlyphs">Holiday: 0.12%</text>
<rect x="1127.50" y="397.50" width="73.00" height="15" fill="#fff" stroke="#895882" stroke-width="1"/><text x="1164.00" y="408.90" text-anchor="middle" fill="#895882" textLength="68.38" lengthAdjust="spacingAndGlyphs">Lunch: 0.44%</text>
<rect x="1117.50" y="376.50" width="83.00" height="15" fill="#fff" stroke="#3c848b" stroke-width="1"/><text x="1159.00" y="387.90" text-anchor="middle" fill="#3c848b" textLength="77.50" lengthAdjust="spacingAndGlyphs">Meeting: 4.38%</text>
<rect x="1120.50" y="352.50" width="80.00" height="15" fill="#fff" stroke="#5f68a6" stroke-width="1"/><text x="1160.50" y="363.90" text-anchor="middle" fill="#5f68a6" textLength="74.49" lengthAdjust="spacingAndGlyphs">Mission: 0.82%</text>
<rect x="1116.50" y="335.50" width="84.00" height="15" fill="#fff" stroke="#a46e30" stroke-width="1"/><text x="1158.50" y="346.90" text-anchor="middle" fill="#a46e30" textLength="78.95" lengthAdjust="spacingAndGlyphs">Seminar: 2.65%</text>
<rect x="642.50" y="211.50" width="99.00" height="15" fill="#fff" stroke="#675572" stroke-width="1"/><text x="692.00" y="222.90" text-anchor="middle" fill="#675572" textLength="93.65" lengthAdjust="spacingAndGlyphs">Conference: 4.29%</text>
<rect x="642.50" y="233.50" width="59.00" height="15" fill="#fff" stroke="#4d5a7e" stroke-width="1"/><text x="672.00" y="244.90" text-anchor="middle" fill="#4d5a7e" textLength="54.22" lengthAdjust="spacingAndGlyphs">DD: 1.59%</text>
<rect x="642.50" y="430.50" width="82.00" height="15" fill="#fff" stroke="#8a457f" stroke-width="1"/><text x="683.50" y="441.90" text-anchor="middle" fill="#8a457f" textLength="77.38" lengthAdjust="spacingAndGlyphs">Dinner: 42.71%</text>
</svg>
<svg class="a" style="left:1150px;top:5px" width="87" height="27"><g transform="translate(-1150,-5)"><path d="M1168,17 H1164 V26 H1178 V17 H1174" fill="none" stroke="#64646e" stroke-width="2"/><path d="M1171,13 V22" stroke="#64646e" stroke-width="2"/><polygon points="1167.9,14.2 1171,10.8 1174.1,14.2" fill="#64646e"/><polygon points="1189.4,12 1205.1,12 1198.2,19.3 1198.2,27 1196.2,27 1196.2,19.3" fill="#bdbdc1"/><path d="M1199.6,21.6 L1205,27 M1205,21.6 L1199.6,27" stroke="#c4c4c8" stroke-width="1.1"/><polygon points="1216.00,12.00 1220.60,12.00 1219.20,13.40 1221.10,15.30 1219.30,17.10 1217.40,15.20 1216.00,16.60" fill="#585863"/><polygon points="1230.20,12.00 1225.60,12.00 1227.00,13.40 1225.10,15.30 1226.90,17.10 1228.80,15.20 1230.20,16.60" fill="#585863"/><polygon points="1216.00,25.90 1220.60,25.90 1219.20,24.50 1221.10,22.60 1219.30,20.80 1217.40,22.70 1216.00,21.30" fill="#585863"/><polygon points="1230.20,25.90 1225.60,25.90 1227.00,24.50 1225.10,22.60 1226.90,20.80 1228.80,22.70 1230.20,21.30" fill="#585863"/></g></svg>
<svg class="a" style="left:1570px;top:5px" width="87" height="27"><g transform="translate(-1150,-5)"><path d="M1168,17 H1164 V26 H1178 V17 H1174" fill="none" stroke="#64646e" stroke-width="2"/><path d="M1171,13 V22" stroke="#64646e" stroke-width="2"/><polygon points="1167.9,14.2 1171,10.8 1174.1,14.2" fill="#64646e"/><polygon points="1189.4,12 1205.1,12 1198.2,19.3 1198.2,27 1196.2,27 1196.2,19.3" fill="#bdbdc1"/><path d="M1199.6,21.6 L1205,27 M1205,21.6 L1199.6,27" stroke="#c4c4c8" stroke-width="1.1"/><polygon points="1216.00,12.00 1220.60,12.00 1219.20,13.40 1221.10,15.30 1219.30,17.10 1217.40,15.20 1216.00,16.60" fill="#585863"/><polygon points="1230.20,12.00 1225.60,12.00 1227.00,13.40 1225.10,15.30 1226.90,17.10 1228.80,15.20 1230.20,16.60" fill="#585863"/><polygon points="1216.00,25.90 1220.60,25.90 1219.20,24.50 1221.10,22.60 1219.30,20.80 1217.40,22.70 1216.00,21.30" fill="#585863"/><polygon points="1230.20,25.90 1225.60,25.90 1227.00,24.50 1225.10,22.60 1226.90,20.80 1228.80,22.70 1230.20,21.30" fill="#585863"/></g></svg>
<div class="a" style="left:1641px;top:56px;width:15px;height:558px;background:#f0f0f0"></div>
<div class="a" style="left:1641px;top:57px;width:15px;height:17px;background:#fff;border:1px solid #b4b4b4;border-bottom:2px solid #a0a0a0"></div>
<svg class="a" style="left:1641px;top:57px" width="15" height="17"><polygon points="4.3,9 7.5,5.6 10.7,9" fill="#6e6e6e"/></svg>
<div class="a" style="left:1641px;top:74px;width:15px;height:136px;background:#fff;border:1px solid #b4b4b4;border-top:none"></div>
<div class="a" style="left:1641px;top:597px;width:15px;height:16px;background:#fff;border:1px solid #b4b4b4"></div>
<svg class="a" style="left:1641px;top:597px" width="15" height="16"><polygon points="4.3,6.4 7.5,9.8 10.7,6.4" fill="#6e6e6e"/></svg>
<div class="a" style="left:1656px;top:56px;width:2px;height:558px;background:#d0d0d0"></div>
<div class="a" style="left:1px;top:5px;width:1773px;height:1px;background:#a6a6a6"></div>
<div class="a" style="left:1px;top:5px;width:1px;height:787px;background:#a6a6a6"></div>
<div class="a" style="left:1237px;top:5px;width:1px;height:610px;background:#a0a0a0"></div>
<div class="a" style="left:1238px;top:5px;width:1px;height:610px;background:#bcbcbc"></div>
<div class="a" style="left:1657px;top:6px;width:1px;height:608px;background:#d6d6d6"></div>
<div class="a" style="left:1658px;top:5px;width:1px;height:610px;background:#a0a0a0"></div>
<div class="a" style="left:1px;top:614px;width:1773px;height:1px;background:#a0a0a0"></div>
<div class="a" style="left:1px;top:615px;width:1773px;height:1px;background:#b4b4b4"></div>
<div class="ttl" style="left:5px;top:13px;letter-spacing:0.44px">Event Analysis by Event Type</div>
<div class="ttl" style="left:1243px;top:13px">Event Filter</div>
<div class="ttl" style="left:1662px;top:13px">Locality Filter</div>
<div class="ttl" style="left:5px;top:623px">Bookings</div>
</body></html>
